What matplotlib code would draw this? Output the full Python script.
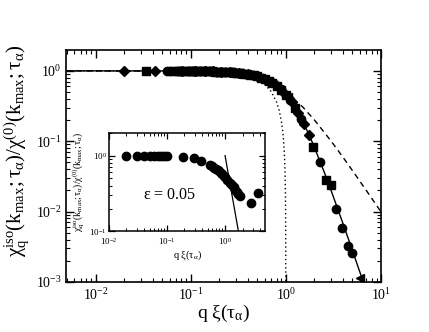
import matplotlib
matplotlib.use("Agg")
import matplotlib.pyplot as plt

plt.rcParams['font.family'] = ['Liberation Serif', 'DejaVu Serif']
plt.rcParams['mathtext.fontset'] = 'custom'
plt.rcParams['mathtext.rm'] = 'Liberation Serif'
plt.rcParams['mathtext.it'] = 'Liberation Serif:italic'
plt.rcParams['mathtext.default'] = 'rm'

# main panel: data points (q xi, chi ratio)
q_diamond = [0.020, 0.042, 0.082, 0.11, 0.14, 0.17, 0.21, 0.26, 0.32, 0.40, 0.50, 0.62, 0.78, 0.95, 1.15, 1.35, 1.55, 1.75]
y_diamond = [1.0, 0.999, 0.996, 0.992, 0.987, 0.981, 0.971, 0.955, 0.932, 0.893, 0.834, 0.750, 0.624, 0.491, 0.355, 0.250, 0.175, 0.124]

q_square = [0.034, 0.067, 0.072, 0.077, 0.083, 0.089, 0.095, 0.10, 0.107, 0.114, 0.122, 0.13, 0.139,
            0.148, 0.158, 0.168, 0.18, 0.192, 0.205, 0.22, 0.235, 0.25, 0.27, 0.29, 0.31, 0.33, 0.36,
            0.39, 0.42, 0.46, 0.5, 0.55, 0.6, 0.66, 0.72, 0.8, 0.9, 1.0, 1.25, 1.95, 2.65, 3.0]
y_square = [1.0, 0.997, 0.997, 0.996, 0.995, 0.995, 0.994, 0.993, 0.992, 0.991, 0.990, 0.989, 0.987,
            0.985, 0.983, 0.981, 0.978, 0.976, 0.972, 0.968, 0.964, 0.958, 0.952, 0.944, 0.936, 0.927, 0.914,
            0.899, 0.883, 0.859, 0.834, 0.801, 0.765, 0.720, 0.672, 0.608, 0.529, 0.455, 0.299, 0.083, 0.028, 0.024]

q_circle = [0.056, 0.06, 0.075, 0.095, 0.105, 0.115, 0.125, 0.14, 0.16, 0.19, 0.23, 0.28, 0.35, 0.45,
            0.56, 0.70, 0.88, 1.1, 1.45, 2.3, 3.38, 3.9, 4.55, 5.0]
y_circle = [0.998, 0.998, 0.996, 0.994, 0.993, 0.991, 0.990, 0.987, 0.983, 0.976, 0.965, 0.948, 0.918, 0.865,
            0.794, 0.688, 0.545, 0.386, 0.209, 0.051, 0.0108, 0.0058, 0.0032, 0.0026]

q_tri = [0.12, 0.2, 0.3, 0.48, 0.72, 1.05, 5.95]
y_tri = [0.990, 0.973, 0.940, 0.845, 0.672, 0.42, 0.00114]

# main panel: curves
q_solid = [0.005, 0.05, 0.1, 0.2, 0.3, 0.4, 0.5, 0.6, 0.7, 0.8, 0.9, 1.0, 1.2, 1.4, 1.6, 1.8, 2.0, 2.5, 3.0, 4.0, 5.0, 6.0, 6.6, 7.0]
y_solid = [1.0, 0.998, 0.993, 0.973, 0.940, 0.893, 0.834, 0.765, 0.688, 0.608, 0.529, 0.455, 0.326, 0.229, 0.161, 0.114, 0.0814, 0.0381, 0.0197, 0.00668, 0.00282, 0.00138, 0.00095, 0.00075]

q_dash = [0.005, 0.1, 0.2, 0.3, 0.5, 0.7, 1.0, 1.5, 2.0, 3.0, 4.0, 5.0, 6.0, 7.0, 8.0, 10.0]
y_dash = [1.0, 0.990, 0.962, 0.917, 0.80, 0.671, 0.50, 0.308, 0.20, 0.10, 0.0588, 0.0385, 0.027, 0.020, 0.0154, 0.0099]

q_dot = [0.005, 0.1, 0.2, 0.3, 0.4, 0.5, 0.6, 0.7, 0.8, 0.85, 0.9, 0.93, 0.95, 0.97, 0.98, 0.99, 0.995, 0.999, 0.9995, 0.9998]
y_dot = [1.0, 0.99, 0.96, 0.91, 0.84, 0.75, 0.64, 0.51, 0.36, 0.2775, 0.19, 0.1351, 0.0975, 0.0591, 0.0396, 0.0199, 0.00998, 0.002, 0.001, 0.0004]

# inset: epsilon = 0.05
q_in = [0.02, 0.03, 0.04, 0.05, 0.06, 0.07, 0.08, 0.09, 0.1, 0.19, 0.29, 0.385,
        0.55, 0.6, 0.65, 0.7, 0.75, 0.8, 0.85, 0.9, 0.95, 1.0, 1.1, 1.2, 1.3, 1.4,
        1.5, 1.6, 1.7, 1.8, 2.8, 3.75]
y_in = [1.0, 1.0, 1.0, 1.0, 1.0, 1.0, 1.0, 1.0, 1.0, 0.97, 0.92, 0.86,
        0.75, 0.72, 0.69, 0.67, 0.64, 0.62, 0.59, 0.57, 0.54, 0.52, 0.48, 0.44, 0.41, 0.38,
        0.35, 0.33, 0.31, 0.29, 0.24, 0.32]
q_in_line = [1.0, 1.7]
y_in_line = [1.0, 0.1]

ylab = r'$\chi_{q}^{iso}(k_{max};\tau_{\alpha})/\chi^{(0)}(k_{max};\tau_{\alpha})$'
xlab = r'q $\xi(\tau_\alpha)$'

fig = plt.figure(figsize=(4.29, 3.32), dpi=100)
ax = fig.add_axes([0.154, 0.151, 0.734, 0.698])

ax.plot(q_solid, y_solid, '-', color='black', lw=1.0)
ax.plot(q_dash, y_dash, '--', color='black', lw=1.0, dashes=(4, 3))
ax.plot(q_dot, y_dot, ':', color='black', lw=1.0, dashes=(1, 2))
ms = 5.5
ax.plot(q_diamond, y_diamond, 'D', color='black', ms=ms - 0.8, ls='none')
ax.plot(q_square, y_square, 's', color='black', ms=ms, ls='none')
ax.plot(q_circle, y_circle, 'o', color='black', ms=ms + 0.5, ls='none')
ax.plot(q_tri, y_tri, '<', color='black', ms=ms + 0.5, ls='none')

ax.set_xscale('log')
ax.set_yscale('log')
ax.set_xlim(0.0049, 10)
ax.set_ylim(1e-3, 1.97)
ax.set_xlabel(xlab, fontsize=14, labelpad=0)
ax.set_ylabel(ylab, fontsize=15)
ax.yaxis.set_label_coords(-0.112, 0.565)
ax.tick_params(which='both', direction='in', top=True, right=True, labelsize=10)
ax.tick_params(axis='y', pad=3)
ax.tick_params(which='major', length=6, width=1)
ax.tick_params(which='minor', length=3, width=0.8)
for s in ax.spines.values():
    s.set_linewidth(1.2)

ins = fig.add_axes([0.254, 0.303, 0.364, 0.297])
ins.plot(q_in_line, y_in_line, '-', color='black', lw=0.9)
ins.plot(q_in, y_in, 'o', color='black', ms=6, ls='none')
ins.set_xscale('log')
ins.set_yscale('log')
ins.set_xlim(0.01, 4.9)
ins.set_ylim(0.1, 2.0)
ins.text(0.11, 0.30, r'$\epsilon$ = 0.05', fontsize=11.5, ha='center', va='center')
ins.set_xlabel(xlab, fontsize=7.5, labelpad=1)
ins.set_ylabel(ylab, fontsize=7, labelpad=2)
ins.tick_params(which='both', direction='in', top=True, right=True, labelsize=6.5)
ins.tick_params(axis='x', pad=3.5)
ins.tick_params(axis='y', pad=1.5)
ins.tick_params(which='major', length=4, width=0.9)
ins.tick_params(which='minor', length=2, width=0.7)
for s in ins.spines.values():
    s.set_linewidth(1.1)

fig.savefig('out.png', dpi=100)
